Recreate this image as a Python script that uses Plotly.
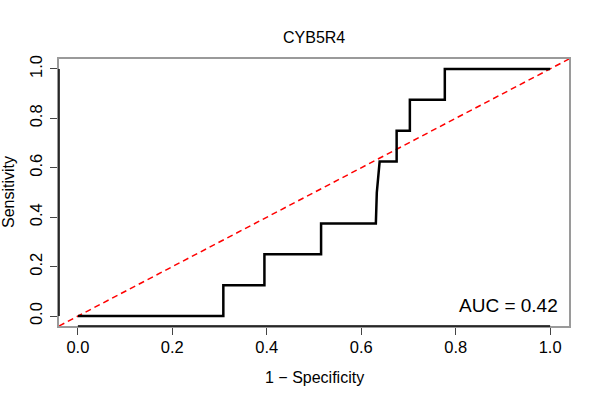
import plotly.graph_objects as go

# ROC curve data
fpr = [0.0, 0.308, 0.308, 0.395, 0.395, 0.515, 0.515, 0.631, 0.633, 0.639,
       0.675, 0.675, 0.703, 0.703, 0.777, 0.777, 1.0]
tpr = [0.0, 0.0, 0.125, 0.125, 0.25, 0.25, 0.375, 0.375, 0.5, 0.625,
       0.625, 0.75, 0.75, 0.875, 0.875, 1.0, 1.0]

x_ticks = [0.0, 0.2, 0.4, 0.6, 0.8, 1.0]
y_ticks = [0.0, 0.2, 0.4, 0.6, 0.8, 1.0]
tick_labels = ["0.0", "0.2", "0.4", "0.6", "0.8", "1.0"]

title_text = "CYB5R4"
x_title = "1 \u2212 Specificity"
y_title = "Sensitivity"
auc_text = "AUC = 0.42"

pad = 0.04
rng = [0 - pad, 1 + pad]

FONT = "Liberation Sans, Arial, sans-serif"

fig = go.Figure()

# chance diagonal (abline 0,1)
fig.add_trace(go.Scatter(
    x=rng, y=rng, mode="lines",
    line=dict(color="#ff0000", width=1.5, dash="6px,4px"),
    hoverinfo="skip", showlegend=False))

# ROC curve
fig.add_trace(go.Scatter(
    x=fpr, y=tpr, mode="lines",
    line=dict(color="black", width=2.5),
    showlegend=False))

axis_common = dict(
    showgrid=False, zeroline=False,
    showline=True, mirror=True, linecolor="#9a9a9a", linewidth=1.5,
    ticks="outside", ticklen=7, tickwidth=1, tickcolor="#444444",
    tickfont=dict(family=FONT, size=16.5, color="black"),
    range=rng,
)

fig.update_xaxes(**axis_common, tickvals=x_ticks, ticktext=tick_labels,
                 ticklabelstandoff=-2)
fig.update_yaxes(**axis_common, tickvals=y_ticks, ticktext=tick_labels,
                 tickangle=-90, ticklabelstandoff=2)

# black axis segments spanning first to last tick (R style axis lines)
fig.add_shape(type="line", xref="x", yref="paper",
              x0=x_ticks[0], x1=x_ticks[-1], y0=0, y1=0,
              line=dict(color="black", width=1.5), layer="above")
fig.add_shape(type="line", xref="paper", yref="y",
              x0=0, x1=0, y0=y_ticks[0], y1=y_ticks[-1],
              line=dict(color="black", width=1.5), layer="above")

# title and axis titles
fig.add_annotation(text=title_text, xref="paper", yref="paper",
                   x=0.5, y=1 + 22 / 267, xanchor="center", yanchor="middle",
                   showarrow=False, font=dict(family=FONT, size=16, color="black"))
fig.add_annotation(text=x_title, xref="paper", yref="paper",
                   x=0.5, y=-51 / 267, xanchor="center", yanchor="middle",
                   showarrow=False, font=dict(family=FONT, size=16, color="black"))
fig.add_annotation(text=y_title, xref="paper", yref="paper",
                   x=-50.5 / 510, y=0.5, xanchor="center", yanchor="middle",
                   textangle=-90,
                   showarrow=False, font=dict(family=FONT, size=16, color="black"))

# AUC label
fig.add_annotation(text=auc_text, xref="paper", yref="paper",
                   x=(559.5 - 59) / 510, y=(326 - 305) / 267,
                   xanchor="right", yanchor="middle",
                   showarrow=False, font=dict(family=FONT, size=19, color="black"))

fig.update_layout(
    width=600, height=400,
    margin=dict(l=59, r=31, t=59, b=74),
    plot_bgcolor="white", paper_bgcolor="white",
    showlegend=False,
)

fig.write_html("out.html",
               config={"displayModeBar": False},
               post_script="document.body.style.margin='0';document.body.style.overflow='hidden';")
